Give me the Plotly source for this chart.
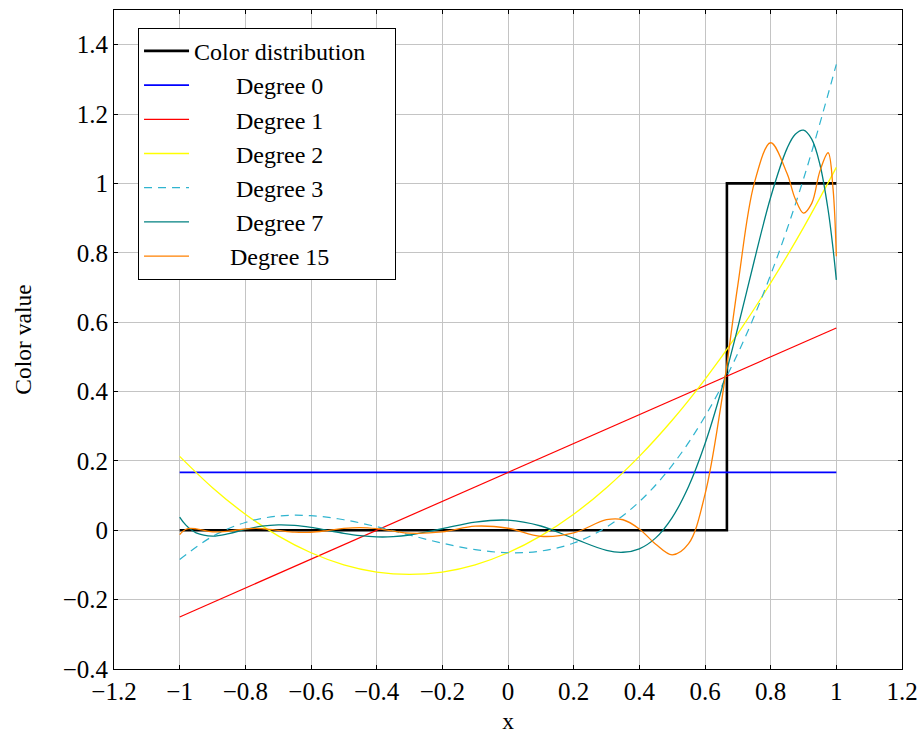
import plotly.graph_objects as go

# ---- data ----
step_x = [-1.0, 0.6667, 0.6667, 1.0]
step_y = [0.0, 0.0, 1.0, 1.0]

deg0_x = [-1.0, 1.0]
deg0_y = [0.1667, 0.1667]

deg1_x = [-1.0, 1.0]
deg1_y = [-0.25, 0.5833]

poly_x = [-1.0, -0.9, -0.8, -0.7, -0.6, -0.5, -0.4, -0.3, -0.2, -0.1, 0.0,
          0.1, 0.2, 0.3, 0.4, 0.5, 0.6, 0.7, 0.8, 0.9, 1.0]
deg2_y = [0.2130, 0.1227, 0.0463, -0.0162, -0.0648, -0.0995, -0.1204, -0.1273,
          -0.1204, -0.0995, -0.0648, -0.0162, 0.0463, 0.1227, 0.2130, 0.3171,
          0.4352, 0.5671, 0.7130, 0.8727, 1.0463]
deg3_y = [-0.0841, -0.0177, 0.0225, 0.0410, 0.0421, 0.0304, 0.0103, -0.0137,
          -0.0372, -0.0557, -0.0648, -0.0600, -0.0369, 0.0091, 0.0823, 0.1872,
          0.3282, 0.5099, 0.7367, 1.0130, 1.3434]

deg7_x = [-1.0, -0.99, -0.975, -0.95, -0.9, -0.85, -0.8, -0.75, -0.7, -0.65,
          -0.6, -0.55, -0.5, -0.45, -0.4, -0.35, -0.3, -0.2, -0.1, 0.0, 0.1,
          0.2, 0.3, 0.35, 0.4, 0.45, 0.5, 0.55, 0.6, 0.65, 0.7, 0.75, 0.8,
          0.85, 0.875, 0.9, 0.925, 0.95, 0.975, 0.99, 1.0]
deg7_y = [0.0376, 0.0246, 0.0091, -0.0074, -0.0167, -0.0095, 0.0023, 0.0117,
          0.0157, 0.0141, 0.0081, -0.0003, -0.0089, -0.0157, -0.0191, -0.0185,
          -0.0137, 0.0044, 0.0235, 0.0292, 0.0123, -0.0237, -0.0581, -0.0634,
          -0.0534, -0.0219, 0.0366, 0.1264, 0.2494, 0.4043, 0.5845, 0.7771,
          0.9602, 1.1010, 1.1418, 1.1534, 1.1275, 1.0545, 0.9234, 0.8118, 0.7218]

deg15_x = deg7_x
deg15_y = [-0.0127, -0.0026, 0.0045, 0.0042, -0.0046, -0.0024, 0.0041, 0.0049,
           -0.0003, -0.0055, -0.0057, -0.0008, 0.0053, 0.0077, 0.0046, -0.0022,
           -0.0084, -0.0046, 0.0119, 0.0058, -0.0175, -0.0076, 0.0304, 0.0303,
           0.0039, -0.0403, -0.0709, -0.0388, 0.1034, 0.3688, 0.7068, 1.0000,
           1.1173, 1.0285, 0.9551, 0.9144, 0.9424, 1.0355, 1.0884, 0.9844, 0.7902]

x_ticks = [-1.2, -1.0, -0.8, -0.6, -0.4, -0.2, 0.0, 0.2, 0.4, 0.6, 0.8, 1.0, 1.2]
y_ticks = [-0.4, -0.2, 0.0, 0.2, 0.4, 0.6, 0.8, 1.0, 1.2, 1.4]

NB = "\u00a0"
FONT = "Liberation Serif, Times New Roman, serif"

fig = go.Figure()
fig.add_trace(go.Scatter(x=step_x, y=step_y, mode="lines", name="Color distribution" + NB * 4,
                         line=dict(color="black", width=2.6)))
fig.add_trace(go.Scatter(x=deg0_x, y=deg0_y, mode="lines", name=NB * 7 + "Degree 0",
                         line=dict(color="#0000ff", width=1.8)))
fig.add_trace(go.Scatter(x=deg1_x, y=deg1_y, mode="lines", name=NB * 7 + "Degree 1",
                         line=dict(color="#ff0000", width=1.2)))
fig.add_trace(go.Scatter(x=poly_x, y=deg2_y, mode="lines", name=NB * 7 + "Degree 2",
                         line=dict(color="#ffff00", width=1.3, shape="spline")))
fig.add_trace(go.Scatter(x=poly_x, y=deg3_y, mode="lines", name=NB * 7 + "Degree 3",
                         line=dict(color="#2fb4cf", width=1.2, shape="spline",
                                   dash="8px,6px")))
fig.add_trace(go.Scatter(x=deg7_x, y=deg7_y, mode="lines", name=NB * 7 + "Degree 7",
                         line=dict(color="#008080", width=1.3, shape="spline")))
fig.add_trace(go.Scatter(x=deg15_x, y=deg15_y, mode="lines", name=NB * 6 + "Degree 15",
                         line=dict(color="#ff8000", width=1.3, shape="spline")))

axis_common = dict(
    showgrid=True, gridcolor="#c4c4c4", gridwidth=1,
    showline=True, linecolor="black", linewidth=1, mirror="ticks",
    ticks="inside", ticklen=4, tickcolor="black", tickwidth=1,
    zeroline=False, automargin=False,
    tickfont=dict(family=FONT, size=25, color="black"),
)

fig.update_xaxes(range=[-1.2, 1.2], tickvals=x_ticks, tickformat="~g",
                 title=dict(text="x", font=dict(family=FONT, size=23.5, color="black"),
                            standoff=10),
                 **axis_common)
fig.update_yaxes(range=[-0.4, 1.5], tickvals=y_ticks, tickformat="~g",
                 title=dict(text="Color value", font=dict(family=FONT, size=23.5, color="black"),
                            standoff=24),
                 **axis_common)

fig.update_layout(
    width=924, height=734,
    margin=dict(l=114, r=22, t=10, b=65),
    plot_bgcolor="white", paper_bgcolor="white",
    font=dict(family=FONT, size=25, color="black"),
    legend=dict(x=0.0305, y=0.973, xanchor="left", yanchor="top",
                bgcolor="white", bordercolor="black", borderwidth=1,
                itemwidth=45,
                font=dict(family=FONT, size=24, color="black")),
)

fig.write_html("out.html")
